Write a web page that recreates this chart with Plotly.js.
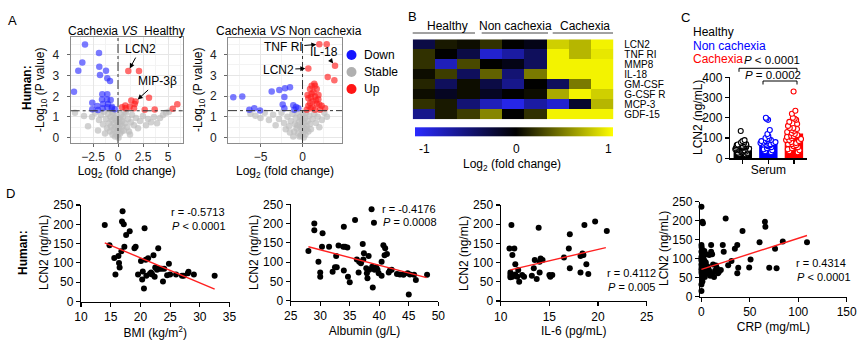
<!DOCTYPE html>
<html><head><meta charset="utf-8">
<script src="https://cdn.plot.ly/plotly-3.0.1.min.js"></script>
<style>html,body{margin:0;padding:0;background:#fff;}#chart{width:865px;height:342px;}</style>
</head><body><div id="chart"></div><script>
// ---------- Panel A1: Cachexia VS Healthy ----------
const a1DownX = [-3.3,-1.9,-3.57,-3.97,-1.87,-1.2,-1.8,-1.07,-0.8,-4.4,-1.57,-1.07,-1.6,-1.1,-0.73,-2.57,-2.07,-1.5,-1.0,-0.6,-1.53,-1.07,-0.63,-0.3,-2.57,-2.0];
const a1DownY = [4.51,4.1,3.64,3.24,3.43,3.24,3.03,2.87,2.74,2.22,2.1,2.1,1.85,1.85,1.82,1.69,1.53,1.63,1.63,1.5,1.42,1.47,1.42,1.37,1.37,1.34];
const a1UpX = [1.03,2.1,3.1,1.33,0.73,0.4,1.17,1.67,1.6,0.77,5.93,5.47,3.67,2.67,1.75];
const a1UpY = [3.22,3.22,1.93,1.8,1.55,1.47,1.5,1.63,1.42,1.42,1.62,1.4,1.36,1.35,1.75];
const a1StableX = [-3.0,-2.6,-2.3,-2.0,-1.9,-1.7,-1.5,-1.4,-1.2,-1.1,-1.0,-0.9,-0.8,-0.75,-0.7,-0.6,-0.55,-0.5,-0.45,-0.4,-0.35,-0.3,-0.25,-0.2,-0.15,-0.1,-0.05,0,0.05,0.1,0.15,0.2,0.25,0.3,0.35,0.4,0.45,0.5,0.6,0.7,0.8,0.9,1.0,1.1,1.3,1.4,1.6,1.8,2.0,2.2,2.5,2.8,3.0,3.3,3.6,3.9,4.2,4.5,4.8,5.1,-0.6,0.65,-1.3,1.2,-0.15,0.05,-4.3,-3.4];
const a1StableY = [0.55,1.0,1.2,0.35,0.85,1.1,0.65,1.25,0.9,0.45,1.15,0.7,0.3,1.0,0.55,0.85,0.15,1.2,0.4,0.7,0.95,0.05,0.5,0.25,0.8,0.1,0.6,0.35,0.0,0.45,0.9,0.2,0.65,1.1,0.3,0.8,0.55,1.0,0.35,0.7,1.2,0.5,0.9,0.3,0.75,1.1,0.6,0.95,0.45,0.8,1.05,0.6,0.9,0.75,1.0,0.7,0.95,1.1,1.2,1.25,1.25,1.25,0.2,0.15,1.05,0.75,1.2,1.05];
// ---------- Panel A2: Cachexia VS Non cachexia ----------
const a2DownX = [-8.24,-7.17,-6.33,-5.74,-5.06,-3.67,-2.76,-2.08,-1.49,-2.16,-2.36,-2.16,-1.1,-0.77,-0.5,-0.98];
const a2DownY = [1.95,1.98,1.34,1.42,1.31,2.22,2.3,2.38,2.43,1.96,1.6,1.42,1.56,1.48,1.42,1.34];
const a2UpX = [2.0,2.88,3.87,0.69,3.0,3.79,1.09,1.49,0.89,1.69,1.09,1.49,0.69,1.88,1.21,1.69,0.69,2.28,2.68,0.97,1.49,2.08,0.5,1.3,0.9,1.9,1.2,0.6,1.6,2.0,1.4,1.0];
const a2UpY = [4.5,4.5,3.46,3.33,2.92,2.76,2.5,2.5,2.34,2.34,2.11,1.98,1.9,1.85,1.74,1.63,1.53,1.53,1.42,1.42,1.34,1.34,1.34,2.2,1.65,2.05,1.45,2.05,1.8,1.6,2.6,1.95];
const a2StableX = [-6.2,-5.6,-5.0,-4.5,-4.0,-3.5,-3.2,-2.8,-2.5,-2.2,-2.0,-1.8,-1.6,-1.4,-1.2,-1.0,-0.9,-0.8,-0.7,-0.6,-0.5,-0.4,-0.3,-0.25,-0.2,-0.1,-0.05,0,0.05,0.1,0.15,0.2,0.25,0.3,0.35,0.4,0.5,0.6,0.7,0.8,0.9,1.0,1.2,1.4,1.6,1.8,2.0,2.3,2.6,2.9,-0.35,0.45,-1.1,-1.5,0.0,-0.6];
const a2StableY = [1.15,1.05,0.95,1.2,0.85,1.1,0.6,0.9,1.2,0.7,0.4,1.0,0.55,0.8,1.15,0.3,0.65,0.95,0.45,1.2,0.2,0.75,1.0,0.5,0.1,0.85,0.35,0.6,1.15,0.25,0.0,0.7,0.45,0.95,0.15,1.2,0.55,0.8,0.3,1.05,0.65,0.4,0.9,1.15,0.7,1.0,0.5,0.85,1.2,1.0,0.05,0.4,0.05,0.25,0.95,0.6];
const sigThreshold = 1.3;
// ---------- Panel B: heatmap ----------
const hmColumns = ['H1','H2','H3','N1','N2','N3','C1','C2','C3'];
const hmRows = ['LCN2','TNF RI','MMP8','IL-18','GM-CSF','G-CSF R','MCP-3','GDF-15'];
const hmValues = [
  [-0.3, 0.1, 0.05, 0.2, 0.0,-0.1, 0.85,0.75,1.0],
  [ 0.2, 0.0,-0.3,-0.9,-0.7,-0.4, 1.0, 0.75,0.95],
  [ 0.2,-0.8, 0.3, 0.0,-0.1,-0.4, 1.0, 1.0, 1.0],
  [ 0.05,0.25,-0.4,0.4,-0.5, 0.5, 1.0, 1.0, 1.0],
  [ 0.15,-0.4,0.05,-0.3,-0.6,0.0,-0.4, 0.5, 1.0],
  [ 0.05,-0.15,0.05,-0.15,0.0,0.05,0.7, 1.0, 0.85],
  [ 0.2, 0.1,-0.5,-0.8,-1.0,-0.7,-0.9,-0.2, 0.75],
  [-0.6, 0.1, 0.25,0.55,0.0, 0.2, 1.0, 1.0, 1.0]
];
const hmGroups = ['Healthy','Non cachexia','Cachexia'];
// ---------- Panel C: serum LCN2 ----------
const cGroups = ['Healthy','Non cachexia','Cachexia'];
const cBarMeans = [58, 86, 123];
const cHealthy = [135,90,85,80,78,75,72,70,68,66,65,63,62,60,58,57,55,54,52,50,48,47,45,44,42,40,38,36,34,32,30,28,25,22,20,60,55,50,45,40];
const cNonCachexia = [200,195,190,140,120,110,100,95,90,88,85,82,80,78,75,72,70,68,65,60,55,50,45,40,35,30,75,85,95,65];
const cCachexia = [330,235,220,200,195,190,180,170,160,150,145,140,135,130,125,120,115,110,105,100,95,90,85,80,75,70,65,60,55,50,45,40,35,30,150,110,90,70];
// ---------- Panel D: correlations ----------
const bmiX = [14.0,14.8,15.6,15.8,16.3,16.4,16.5,16.8,16.9,17.0,17.2,17.3,17.6,18.2,19.0,19.2,19.6,20.1,20.3,20.4,20.6,20.7,20.9,21.0,21.3,21.6,21.8,22.0,22.2,22.4,22.5,22.8,23.0,23.2,23.6,23.8,24.0,24.5,24.8,25.0,26.0,27.0,27.3,28.0,28.1,29.0,32.5];
const bmiY = [198,146,113,70,118,100,88,130,207,234,200,142,172,182,138,142,70,105,57,78,34,190,108,67,112,72,75,70,120,64,88,82,138,85,85,52,85,68,98,70,70,67,67,73,77,70,67];
const bmiFitX = [14, 32.5], bmiFitY = [152, 32];
const albX = [28.0,29.0,29.0,29.7,30.0,30.0,30.3,30.4,31.5,32.1,32.5,32.8,32.7,33.1,33.9,34.0,34.2,34.0,34.6,34.7,35.0,35.9,36.2,36.5,36.6,36.9,37.2,37.3,37.4,37.8,37.9,38.0,38.2,38.3,38.7,38.9,38.8,39.1,39.2,39.5,39.7,39.9,40.4,40.4,40.7,41.0,40.9,41.3,41.6,41.8,42.1,43.0,43.5,44.1,44.8,45.0,45.2,45.9,46.2,48.1];
const albY = [129,200,183,101,73,62,140,175,140,75,87,87,116,143,140,192,140,78,138,62,48,209,107,73,101,97,147,107,123,84,71,58,116,80,237,34,88,202,80,87,80,71,101,65,144,136,118,121,73,78,80,69,68,67,71,16,68,67,54,67];
const albFitX = [28, 48], albFitY = [140, 60];
const il6X = [11.1,10.9,11.4,11.2,11.5,11.0,11.0,11.0,11.2,11.5,11.7,11.8,11.9,12.2,12.4,13.2,13.4,13.5,13.7,13.9,14.0,14.0,14.1,14.3,15.0,15.1,15.3,16.5,17.0,17.1,17.1,18.2,18.2,18.4,18.5,18.6,18.8,19.0,19.7,20.9];
const il6Y = [198,137,137,120,96,74,68,62,63,69,63,81,50,68,63,66,85,107,57,191,74,102,111,107,68,63,68,113,137,174,85,74,117,124,120,198,96,70,207,182];
const il6FitX = [11, 20.8], il6FitY = [81, 139];
const crpX = [0,1,1.5,0,0,10,10,11,22,23,25,27.6,31,34.5,37,37,38,42.4,50.7,49.3,60,65.5,66,70,76,77.6,84,109,0,0,0.5,1,0.3,1.5,2,0.8,3,1.2,0.2,2.5,4,1,0.5,3,0.1,2,1,5,0.5,3,1,0.2,4,5,6,7,8,0.6,1.8,3.5,2.8,4.5,0,0,0,0,0,1,9,11,13,14,15,16,18,20,12,17,6,8];
const crpY = [237,197,193,136,118,136,118,112,136,118,206,83,94,126,136,62,76,173,98,77,143,197,184,76,126,75,145,143,15,32,45,55,60,65,68,70,72,75,78,80,82,85,90,95,100,105,110,112,118,120,122,130,60,70,62,75,68,50,58,52,88,90,65,72,85,95,105,40,55,60,52,68,82,75,65,70,85,62,80,110];
const crpFitX = [0, 109], crpFitY = [72, 161];
const corrText = [
  ['r = -0.5713','<i>P</i> &lt; 0.0001'],
  ['r = -0.4176','<i>P</i> = 0.0008'],
  ['r = 0.4112','<i>P</i> = 0.005'],
  ['r = 0.4314','<i>P</i> &lt; 0.0001']
];

// ---------- helpers ----------
const W = 865, H = 342;
const FONT = 'Liberation Sans, Arial, sans-serif';
const X = (a,b) => [a/W, b/W];
const Yd = (t,b) => [1-b/H, 1-t/H];
const px = p => p/W, py = p => 1-p/H;
const BLUE = 'rgba(40,40,255,0.62)', RED = 'rgba(255,30,30,0.65)', GRAY = 'rgba(190,190,190,0.7)';

function ann(text, x, y, o) {
  return Object.assign({text, x:px(x), y:py(y), xref:'paper', yref:'paper', showarrow:false,
    xanchor:'center', yanchor:'middle', font:{family:FONT, size:12, color:'#000'}}, o||{});
}
function ttl(text, standoff) { return {text, standoff, font:{family:FONT, size:12, color:'#000'}}; }
function volcAxis(extra) {
  return Object.assign({showline:true, mirror:true, linecolor:'#8c8c8c', linewidth:1, showgrid:true,
    gridcolor:'#e6e6e6', gridwidth:1, zeroline:false, ticks:'outside', ticklen:3, tickcolor:'#666',
    tickfont:{family:FONT, size:12, color:'#222'}}, extra);
}
function prismAxis(extra) {
  return Object.assign({showline:true, linecolor:'#000', linewidth:1.2, showgrid:false, zeroline:false,
    ticks:'outside', ticklen:4, tickwidth:1.2, tickcolor:'#000', tickfont:{family:FONT, size:12, color:'#000'}}, extra);
}

const traces = [];
function volc(xa, ya, x, y, color) {
  traces.push({type:'scatter', mode:'markers', x, y, xaxis:xa, yaxis:ya, showlegend:false,
    marker:{color, size:6.5, line:{width:0}}, cliponaxis:true});
}
volc('x','y', a1StableX, a1StableY, GRAY);
volc('x','y', a1DownX, a1DownY, BLUE);
volc('x','y', a1UpX, a1UpY, RED);
volc('x2','y2', a2StableX, a2StableY, GRAY);
volc('x2','y2', a2DownX, a2DownY, BLUE);
volc('x2','y2', a2UpX, a2UpY, RED);

traces.push({type:'heatmap', x:hmColumns, y:hmRows, z:hmValues, xaxis:'x3', yaxis:'y3',
  zmin:-1.1, zmax:1.05,
  colorscale:[[0,'#2a2aff'],[0.51,'#000000'],[1,'#ffff00']],
  colorbar:{orientation:'h', x:px(514), xanchor:'center', y:py(142), yanchor:'middle',
    lenmode:'pixels', len:198, thicknessmode:'pixels', thickness:9, outlinewidth:0, xpad:0, ypad:0,
    tickvals:[-1,0,1], ticktext:['-1','0','1'], ticks:'outside', ticklen:3, tickcolor:'rgba(0,0,0,0)',
    tickfont:{family:FONT, size:12, color:'#000'}}});

traces.push({type:'bar', x:cGroups, y:cBarMeans, xaxis:'x4', yaxis:'y4', width:0.72,
  marker:{color:['#000000','#0000ff','#ff0000'], line:{width:0}}, showlegend:false});
const cSets = [cHealthy, cNonCachexia, cCachexia];
const cColors = ['#000000','#0000ff','#ff0000'];
cSets.forEach((vals, i) => {
  traces.push({type:'box', x:vals.map(() => cGroups[i]), y:vals, xaxis:'x4', yaxis:'y4',
    boxpoints:'all', jitter:0.9, pointpos:0, width:0.7, fillcolor:'rgba(0,0,0,0)',
    line:{width:0, color:'rgba(0,0,0,0)'}, whiskerwidth:0, showlegend:false,
    marker:{color:'#ffffff', size:5, line:{color:cColors[i], width:1.1}}});
});

const dSets = [[bmiX,bmiY,bmiFitX,bmiFitY],[albX,albY,albFitX,albFitY],[il6X,il6Y,il6FitX,il6FitY],[crpX,crpY,crpFitX,crpFitY]];
dSets.forEach((s, i) => {
  const xa = 'x'+(5+i), ya = 'y'+(5+i);
  traces.push({type:'scatter', mode:'markers', x:s[0], y:s[1], xaxis:xa, yaxis:ya, showlegend:false,
    marker:{color:'#000', size:6}, cliponaxis:false});
  traces.push({type:'scatter', mode:'lines', x:s[2], y:s[3], xaxis:xa, yaxis:ya, showlegend:false,
    line:{color:'#ff2020', width:1.4}});
});

const layout = {
  width:W, height:H, margin:{l:0,r:0,t:0,b:0}, paper_bgcolor:'#fff', plot_bgcolor:'rgba(0,0,0,0)',
  font:{family:FONT, size:12, color:'#000'}, showlegend:false, boxmode:'overlay', barmode:'overlay',
  xaxis: volcAxis({domain:X(70.7,182.7), range:[-4.73,6.47], anchor:'y', tick0:0, dtick:2.5,
    minor:{dtick:1.25, showgrid:true, gridcolor:'#f3f3f3'}, title:ttl('Log<sub>2</sub> (fold change)', 2)}),
  yaxis: volcAxis({domain:Yd(37,143), range:[-0.26,4.87], anchor:'x', dtick:1, ticklabelstandoff:5,
    minor:{dtick:0.5, showgrid:true, gridcolor:'#f3f3f3'}}),
  xaxis2: volcAxis({domain:X(228,342), range:[-8.87,4.7], anchor:'y2', tick0:0, dtick:5,
    minor:{dtick:2.5, showgrid:true, gridcolor:'#f3f3f3'}, title:ttl('Log<sub>2</sub> (fold change)', 2)}),
  yaxis2: volcAxis({domain:Yd(38,143), range:[-0.26,4.8], anchor:'x2', dtick:1, ticklabelstandoff:5,
    minor:{dtick:0.5, showgrid:true, gridcolor:'#f3f3f3'}}),
  xaxis3: {domain:X(412.7,613.3), anchor:'y3', visible:false, fixedrange:true},
  yaxis3: {domain:Yd(39.3,119.3), anchor:'x3', side:'right', autorange:'reversed', showline:false,
    tickmode:'array', tickvals:hmRows, ticktext:hmRows,
    showgrid:false, zeroline:false, ticks:'', ticklabelstandoff:10, tickfont:{family:FONT,size:10,color:'#000'}},
  xaxis4: prismAxis({domain:X(730,806.7), anchor:'y4', type:'category', range:[-0.5,2.5],
    showticklabels:false, title:ttl('Serum', 3)}),
  yaxis4: prismAxis({domain:Yd(77.3,158.3), anchor:'x4', range:[0,400], dtick:100}),
  xaxis5: prismAxis({domain:X(81,229.5), anchor:'y5', range:[10,35], dtick:5, title:ttl('BMI (kg/m<sup>2</sup>)', 4)}),
  yaxis5: prismAxis({domain:Yd(205,301.5), anchor:'x5', range:[0,250], dtick:50}),
  xaxis6: prismAxis({domain:X(290.7,438.3), anchor:'y6', range:[25,50], dtick:5, title:ttl('Albumin (g/L)', 4)}),
  yaxis6: prismAxis({domain:Yd(204.3,300.7), anchor:'x6', range:[0,250], dtick:50}),
  xaxis7: prismAxis({domain:X(500.7,646.7), anchor:'y7', range:[10,25], dtick:5, title:ttl('IL-6 (pg/mL)', 4)}),
  yaxis7: prismAxis({domain:Yd(205,301), anchor:'x7', range:[0,250], dtick:50}),
  xaxis8: prismAxis({domain:X(700,846.7), anchor:'y8', range:[-1.5,150], tickvals:[0,50,100,150], title:ttl('CRP (mg/mL)', 4)}),
  yaxis8: prismAxis({domain:Yd(201.7,296.7), anchor:'x8', range:[0,250], dtick:50}),
  shapes:[], annotations:[]
};

// threshold lines in volcano plots
['', '2'].forEach(k => {
  layout.shapes.push({type:'line', xref:'x'+k+' domain', yref:'y'+k, x0:0, x1:1, y0:sigThreshold, y1:sigThreshold,
    line:{color:'#333', width:1, dash:'dashdot'}});
  layout.shapes.push({type:'line', xref:'x'+k, yref:'y'+k+' domain', x0:0, x1:0, y0:0, y1:1,
    line:{color:'#333', width:1, dash:'dashdot'}});
});
// heatmap group lines
[[412.7,475],[481.7,548],[552.7,613]].forEach(s => layout.shapes.push({type:'line', xref:'paper', yref:'paper',
  x0:px(s[0]), x1:px(s[1]), y0:py(33), y1:py(33), line:{color:'#444', width:1}}));
// P-value brackets
function bracket(x0, x1, y) {
  layout.shapes.push({type:'path', xref:'paper', yref:'paper',
    path:`M${px(x0)},${py(y+3.5)} L${px(x0)},${py(y)} L${px(x1)},${py(y)} L${px(x1)},${py(y+3.5)}`,
    line:{color:'#000', width:1}});
}
bracket(739, 797, 68.3);
bracket(763, 797, 81);
// volcano legend
[['Down','#1515ff',55],['Stable','#b0b0b0',72],['Up','#ff1515',89]].forEach(l => {
  layout.shapes.push({type:'circle', xref:'paper', yref:'paper', x0:px(346.5), x1:px(356.5), y0:py(l[2]+5), y1:py(l[2]-5),
    fillcolor:l[1], line:{width:0}});
  layout.annotations.push(ann(l[0], 362, l[2], {xanchor:'left'}));
});

const A = layout.annotations;
// panel letters
A.push(ann('A', 12, 21, {font:{family:FONT,size:13}}));
A.push(ann('B', 412, 17, {font:{family:FONT,size:13}}));
A.push(ann('C', 685, 18, {font:{family:FONT,size:13}}));
A.push(ann('D', 10, 193, {font:{family:FONT,size:13}}));
A.push(ann('<b>Human:</b>', 27, 88, {textangle:-90}));
A.push(ann('<b>Human:</b>', 23, 253, {textangle:-90}));
// y axis titles
A.push(ann('-Log<sub>10</sub> (P value)', 41, 90, {textangle:-90}));
A.push(ann('-Log<sub>10</sub> (P value)', 199, 90, {textangle:-90}));
A.push(ann('LCN2 (ng/mL)', 698, 118, {textangle:-90}));
A.push(ann('LCN2 (ng/mL)', 44, 253, {textangle:-90}));
A.push(ann('LCN2 (ng/mL)', 254, 253, {textangle:-90}));
A.push(ann('LCN2 (ng/mL)', 464, 253, {textangle:-90}));
A.push(ann('LCN2 (ng/mL)', 664, 249, {textangle:-90}));
// volcano titles
A.push(ann('Cachexia <i>VS</i>  Healthy', 126, 31));
A.push(ann('Cachexia <i>VS</i> Non cachexia', 289, 31));
// labelled proteins
function lab(text, xa, ya, x, y, ax, ay) {
  A.push({text, xref:xa, yref:ya, x, y, ax, ay, axref:'pixel', ayref:'pixel', showarrow:true, arrowhead:2,
    arrowsize:1, arrowwidth:1, arrowcolor:'#000', standoff:3, font:{family:FONT,size:12,color:'#000'}});
}
lab('LCN2', 'x','y', a1UpX[0], a1UpY[0], 12, -22);
lab('MIP-3β', 'x','y', a1UpX[14], a1UpY[14], 22, -20);
lab('TNF RI', 'x2','y2', a2UpX[0], a2UpY[0], -36, 3);
lab('IL-18', 'x2','y2', a2UpX[2], a2UpY[2], -11, -14);
lab('LCN2', 'x2','y2', a2UpX[3], a2UpY[3], -30, 1);
// heatmap group labels and colorbar title
A.push(ann(hmGroups[0], 448, 26));
A.push(ann(hmGroups[1], 515, 26));
A.push(ann(hmGroups[2], 585, 26));
A.push(ann('Log<sub>2</sub> (fold change)', 512, 165));
// panel C legend & p values
A.push(ann('Healthy', 691, 32, {xanchor:'left'}));
A.push(ann('Non cachexia', 691, 45.5, {xanchor:'left', font:{family:FONT,size:12,color:'#0000ff'}}));
A.push(ann('Cachexia', 691, 59, {xanchor:'left', font:{family:FONT,size:12,color:'#ff0000'}}));
A.push(ann('<i>P</i> &lt; 0.0001', 772, 59.5, {font:{family:FONT,size:11.5,color:'#000'}}));
A.push(ann('<i>P</i> = 0.0002', 773, 75, {font:{family:FONT,size:11.5,color:'#000'}}));
// correlation stats
[[170,212],[381,208.5],[606,273],[795,263]].forEach((p, i) => {
  A.push(ann(corrText[i][0], p[0], p[1], {xanchor:'left', borderpad:0, font:{family:FONT,size:11,color:'#000'}}));
  A.push(ann(corrText[i][1], p[0]+1, p[1]+13.5, {xanchor:'left', borderpad:0, font:{family:FONT,size:11,color:'#000'}}));
});

Plotly.newPlot('chart', traces, layout, {staticPlot:true, displayModeBar:false});
</script></body></html>
